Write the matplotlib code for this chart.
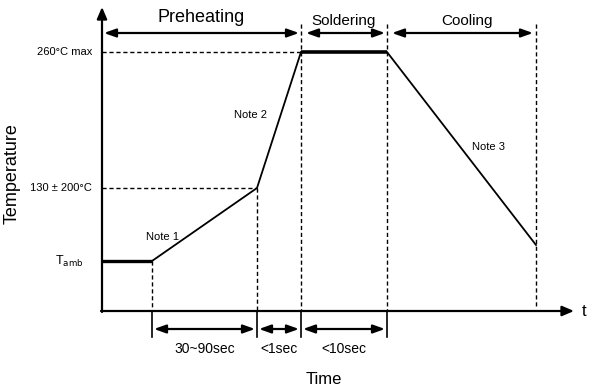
import matplotlib.pyplot as plt

plt.rcParams['font.family'] = ['Liberation Sans', 'DejaVu Sans']

# reflow profile (schematic units: time from origin, height above time axis)
profile_time = [0, 50, 155, 199, 285, 434]
profile_temp = [50, 50, 123, 259, 259, 66]

# phase boundaries and labels
phase_edges = [0, 199, 285, 434]
phase_names = ['Preheating', 'Soldering', 'Cooling']

# durations shown below the time axis
dur_edges = [50, 155, 199, 285]
dur_names = ['30~90sec', '<1sec', '<10sec']

# temperature labels
temp_levels = [259, 123]
temp_names = ['260°C max', '130 ± 200°C']

fig = plt.figure(figsize=(6.02, 3.88), dpi=100)
ax = fig.add_axes([0, 0, 1, 1])
ax.set_xlim(-102, 500)
ax.set_ylim(-77, 311)
ax.axis('off')

k = 'black'
head = dict(arrowstyle='-|>,head_length=0.7,head_width=0.3', color=k, lw=1.6,
            shrinkA=0, shrinkB=0)
dbl = dict(arrowstyle='<|-|>,head_length=0.7,head_width=0.25', color=k, lw=1.6,
           shrinkA=0, shrinkB=0)

# axes with arrows
ax.annotate('', xy=(0, 304), xytext=(0, -1), arrowprops=head)
ax.annotate('', xy=(472, 0), xytext=(-1, 0), arrowprops=head)
ax.text(482, 0, 't', fontsize=12, ha='center', va='center')
ax.text(-90, 137, 'Temperature', rotation=90, fontsize=13, ha='center', va='center')
ax.text(222, -68, 'Time', fontsize=12, ha='center', va='center')

# profile: flat parts thicker
t, T = profile_time, profile_temp
ax.plot(t[:2], T[:2], color=k, lw=2.4, solid_capstyle='butt')
ax.plot(t[1:4], T[1:4], color=k, lw=1.3)
ax.plot(t[3:5], T[3:5], color=k, lw=2.6, solid_capstyle='butt')
ax.plot(t[4:6], T[4:6], color=k, lw=1.3)

dash = dict(color=k, lw=1.0, ls=(0, (3, 2)))
# horizontal guides
ax.plot([0, t[3]], [temp_levels[0]] * 2, **dash)
ax.plot([0, t[2]], [temp_levels[1]] * 2, **dash)
for lvl, name in zip(temp_levels, temp_names):
    ax.text(-10, lvl, name, fontsize=8, ha='right', va='center')
ax.text(-47, 50, 'T$_{\\mathrm{amb}}$', fontsize=9, ha='left', va='center')

# vertical guides
ax.plot([t[1], t[1]], [T[1], 0], **dash)
ax.plot([t[2], t[2]], [T[2], 0], **dash)
for x in phase_edges[1:3]:
    ax.plot([x, x], [287, 0], **dash)
ax.plot([phase_edges[3]] * 2, [287, 4], **dash)

# phase arrows on top
gaps = [(2, 2), (5, 2), (5, 3)]
label_y = [294, 290, 290]
label_dx = [0, 0, 5]
sizes = [13, 11, 11]
for i, name in enumerate(phase_names):
    a, b = phase_edges[i], phase_edges[i + 1]
    ax.annotate('', xy=(a + gaps[i][0], 278), xytext=(b - gaps[i][1], 278),
                arrowprops=dbl)
    ax.text((a + b) / 2 + label_dx[i], label_y[i], name, fontsize=sizes[i],
            ha='center', va='center')

# duration arrows below axis
for x in dur_edges:
    ax.plot([x, x], [0, -26], color=k, lw=1.2)
for i, name in enumerate(dur_names):
    a, b = dur_edges[i], dur_edges[i + 1]
    ax.annotate('', xy=(a + 2, -18), xytext=(b - 2, -18), arrowprops=dbl)
    ax.text((a + b) / 2, -38, name, fontsize=10, ha='center', va='center')

# notes
ax.text(61, 74, 'Note 1', fontsize=8, ha='center', va='center')
ax.text(149, 196, 'Note 2', fontsize=8, ha='center', va='center')
ax.text(386, 164, 'Note 3', fontsize=8, ha='center', va='center')

plt.savefig('out.png', dpi=100)
